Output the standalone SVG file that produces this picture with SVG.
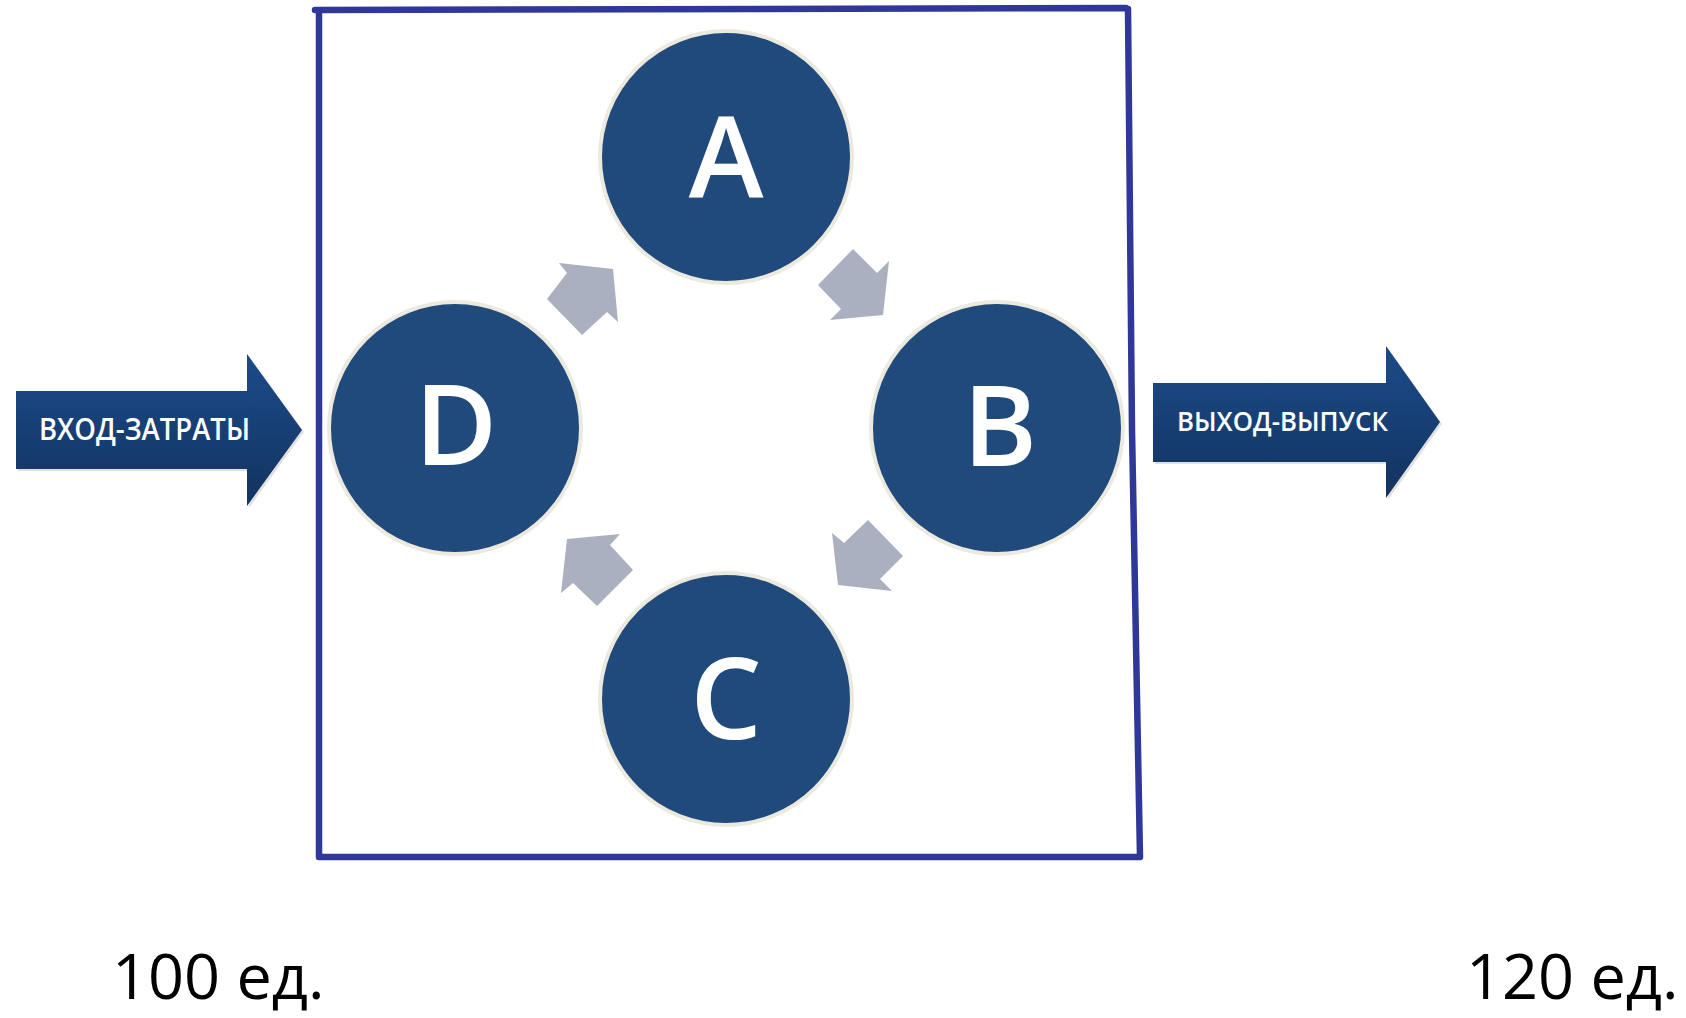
<svg xmlns="http://www.w3.org/2000/svg" width="1686" height="1018" viewBox="0 0 1686 1018">
<defs>
<style>
.frame{fill:none;stroke:#2f3798;stroke-width:6.5;stroke-linecap:round;stroke-linejoin:round}
.circ{fill:#204a7b;stroke:#ece9df;stroke-width:4}
.letter{font-family:"Open Sans","Liberation Sans",sans-serif;font-size:113px;font-weight:600;fill:#ffffff;text-anchor:middle}
.cyc{fill:#aab0bf}
.big{fill:url(#blueGrad)}
.shadow{fill:#000000;opacity:0.12}
.lbl{font-family:"Open Sans","Liberation Sans",sans-serif;font-weight:600;fill:#ffffff}
.units{font-family:"Open Sans","Liberation Sans",sans-serif;font-size:63px;fill:#000000}
</style>
<linearGradient id="blueGrad" x1="0" y1="0" x2="0" y2="1">
<stop offset="0" stop-color="#1c4b8a"/>
<stop offset="1" stop-color="#12335f"/>
</linearGradient>
</defs>
<rect width="1686" height="1018" fill="#ffffff"/>
<g id="frame">
<path class="frame" d="M315,10 L1126,8 M319,10 L319,857 L1140,857 M1128,9 L1132,430 L1140,857"/>
</g>
<g id="connectors">
<polygon class="cyc" points="559,263 613,269 618,322 607,312 582,335 547,299 567,273"/>
<polygon class="cyc" points="853,249 877,273 889,261 883,315 830,320 841,309 818,285"/>
<polygon class="cyc" points="868,520 903,556 880,579 892,591 838,585 832,533 844,543"/>
<polygon class="cyc" points="567,539 620,534 610,545 633,570 597,606 573,583 561,593"/>
</g>
<g id="node-A">
<circle class="circ" cx="726" cy="157" r="126"/>
<text class="letter" x="726" y="197">A</text>
</g>
<g id="node-B">
<circle class="circ" cx="997" cy="428" r="126"/>
<text class="letter" x="1000" y="466">B</text>
</g>
<g id="node-C">
<circle class="circ" cx="726" cy="699" r="126"/>
<text class="letter" x="726" y="739">C</text>
</g>
<g id="node-D">
<circle class="circ" cx="455" cy="428" r="126"/>
<text class="letter" x="456" y="465">D</text>
</g>
<g id="input-arrow">
<polygon class="shadow" points="18,393 249,393 249,356 304,432 249,508 249,471 18,471"/>
<polygon class="big" points="16,391 247,391 247,354 302,430 247,506 247,469 16,469"/>
<text class="lbl" x="39" y="440" font-size="30" textLength="211" lengthAdjust="spacingAndGlyphs">ВХОД-ЗАТРАТЫ</text>
</g>
<g id="output-arrow">
<polygon class="shadow" points="1155,385 1388,385 1388,348 1442,424 1388,500 1388,464 1155,464"/>
<polygon class="big" points="1153,383 1386,383 1386,346 1440,422 1386,498 1386,462 1153,462"/>
<text class="lbl" x="1177" y="431" font-size="27" textLength="211" lengthAdjust="spacingAndGlyphs">ВЫХОД-ВЫПУСК</text>
</g>
<g id="labels">
<text class="units" x="112" y="999">100 ед.</text>
<text class="units" x="1466" y="999">120 ед.</text>
</g>
</svg>
